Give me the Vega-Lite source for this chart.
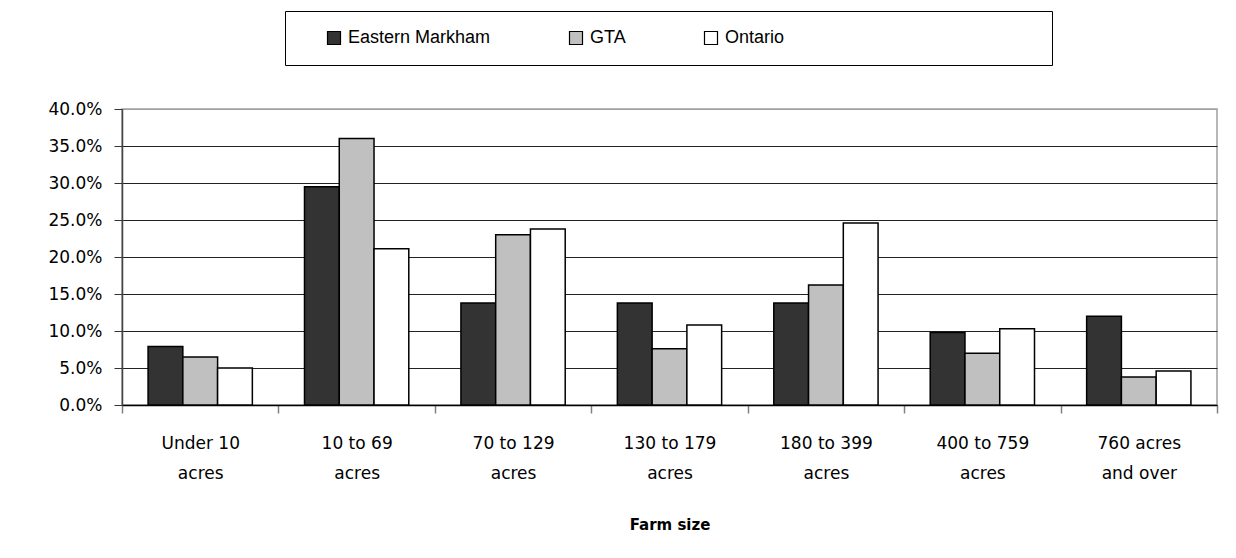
{
  "$schema": "https://vega.github.io/schema/vega-lite/v6.json",
  "width": 1095,
  "height": 296,
  "autosize": {"type": "none"},
  "padding": {"left": 122, "top": 109, "right": 19, "bottom": 153},
  "background": "white",
  "data": {
    "values": [
      {"size": "Under 10 acres", "region": "Eastern Markham", "share": 0.079},
      {"size": "Under 10 acres", "region": "GTA", "share": 0.065},
      {"size": "Under 10 acres", "region": "Ontario", "share": 0.050},
      {"size": "10 to 69 acres", "region": "Eastern Markham", "share": 0.295},
      {"size": "10 to 69 acres", "region": "GTA", "share": 0.360},
      {"size": "10 to 69 acres", "region": "Ontario", "share": 0.211},
      {"size": "70 to 129 acres", "region": "Eastern Markham", "share": 0.138},
      {"size": "70 to 129 acres", "region": "GTA", "share": 0.230},
      {"size": "70 to 129 acres", "region": "Ontario", "share": 0.238},
      {"size": "130 to 179 acres", "region": "Eastern Markham", "share": 0.138},
      {"size": "130 to 179 acres", "region": "GTA", "share": 0.076},
      {"size": "130 to 179 acres", "region": "Ontario", "share": 0.108},
      {"size": "180 to 399 acres", "region": "Eastern Markham", "share": 0.138},
      {"size": "180 to 399 acres", "region": "GTA", "share": 0.162},
      {"size": "180 to 399 acres", "region": "Ontario", "share": 0.246},
      {"size": "400 to 759 acres", "region": "Eastern Markham", "share": 0.098},
      {"size": "400 to 759 acres", "region": "GTA", "share": 0.070},
      {"size": "400 to 759 acres", "region": "Ontario", "share": 0.103},
      {"size": "760 acres and over", "region": "Eastern Markham", "share": 0.120},
      {"size": "760 acres and over", "region": "GTA", "share": 0.038},
      {"size": "760 acres and over", "region": "Ontario", "share": 0.046}
    ]
  },
  "mark": {"type": "bar", "stroke": "#000000", "strokeWidth": 1.5},
  "encoding": {
    "x": {
      "field": "size",
      "type": "nominal",
      "sort": null,
      "scale": {"paddingInner": 0, "paddingOuter": 0},
      "axis": {
        "title": "Farm size",
        "titleFont": "DejaVu Sans",
        "titleFontSize": 15,
        "titleFontWeight": "bold",
        "titleColor": "#000000",
        "titlePadding": 36,
        "labelAngle": 0,
        "labelFont": "DejaVu Sans",
        "labelFontSize": 17,
        "labelColor": "#000000",
        "labelLineHeight": 30,
        "labelPadding": 22,
        "labelExpr": "datum.label == 'Under 10 acres' ? ['Under 10', 'acres'] : datum.label == '10 to 69 acres' ? ['10 to 69', 'acres'] : datum.label == '70 to 129 acres' ? ['70 to 129', 'acres'] : datum.label == '130 to 179 acres' ? ['130 to 179', 'acres'] : datum.label == '180 to 399 acres' ? ['180 to 399', 'acres'] : datum.label == '400 to 759 acres' ? ['400 to 759', 'acres'] : datum.label == '760 acres and over' ? ['760 acres', 'and over'] : ''",
        "tickBand": "extent",
        "tickSize": 8,
        "tickColor": "#808080",
        "tickWidth": 1.5,
        "domainColor": "#000000",
        "domainWidth": 1.5,
        "grid": false
      }
    },
    "xOffset": {
      "field": "region",
      "type": "nominal",
      "sort": ["Eastern Markham", "GTA", "Ontario"],
      "scale": {"paddingInner": 0, "paddingOuter": 0.75}
    },
    "y": {
      "field": "share",
      "type": "quantitative",
      "scale": {"domain": [0, 0.4], "nice": false},
      "axis": {
        "title": null,
        "format": ".1%",
        "values": [0, 0.05, 0.1, 0.15, 0.2, 0.25, 0.3, 0.35, 0.4],
        "labelFont": "DejaVu Sans",
        "labelFontSize": 17,
        "labelColor": "#000000",
        "labelPadding": 12,
        "tickSize": 8,
        "tickColor": "#333333",
        "domainColor": "#444444",
        "domainWidth": 1.5,
        "grid": true,
        "gridColor": {"condition": {"test": "datum.value >= 0.4", "value": "#a0a0a0"}, "value": "#222222"},
        "gridWidth": 1.2
      }
    },
    "color": {
      "field": "region",
      "type": "nominal",
      "scale": {
        "domain": ["Eastern Markham", "GTA", "Ontario"],
        "range": ["#333333", "#c0c0c0", "#ffffff"]
      },
      "legend": {
        "orient": "none",
        "legendX": 163,
        "legendY": -98,
        "direction": "horizontal",
        "padding": 18,
        "strokeColor": "#000000",
        "fillColor": "#ffffff",
        "title": " ",
        "titleOrient": "right",
        "titlePadding": 250,
        "titleFontSize": 17,
        "labelFont": "Liberation Sans",
        "labelFontSize": 18,
        "labelColor": "#000000",
        "labelOffset": 5,
        "symbolType": "square",
        "symbolSize": 169,
        "symbolStrokeColor": "#000000",
        "symbolStrokeWidth": 1.2,
        "symbolOffset": 22,
        "columnPadding": 54
      }
    }
  },
  "config": {
    "view": {"stroke": "#a0a0a0", "strokeWidth": 1.5}
  }
}
